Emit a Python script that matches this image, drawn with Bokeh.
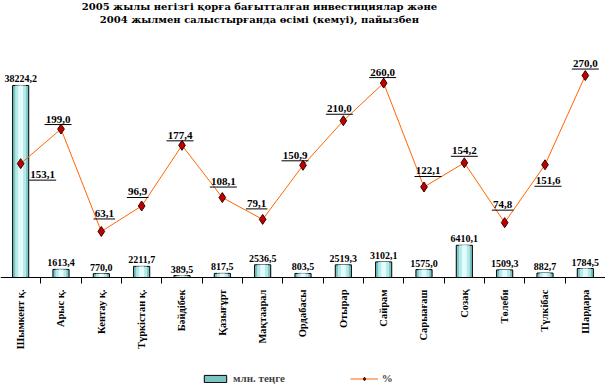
import math
from bokeh.plotting import figure
from bokeh.models import Range1d, FixedTicker, Label, Legend, LegendItem, ColumnDataSource
from bokeh.core.properties import value
from bokeh.embed import file_html
from bokeh.resources import INLINE

districts = ["Шымкент қ.", "Арыс қ.", "Кентау қ.", "Түркістан қ.", "Бәйдібек", "Қазығұрт",
             "Мақтаарал", "Ордабасы", "Отырар", "Сайрам", "Сарыағаш", "Созақ", "Төлеби",
             "Түлкібас", "Шардара"]
invest_mln = [38224.2, 1613.4, 770.0, 2211.7, 389.5, 817.5, 2536.5, 803.5, 2519.3, 3102.1,
              1575.0, 6410.1, 1509.3, 882.7, 1784.5]
growth_pct = [153.1, 199.0, 63.1, 96.9, 177.4, 108.1, 79.1, 150.9, 210.0, 260.0, 122.1,
              154.2, 74.8, 151.6, 270.0]
title_lines = ["2005 жылы негізгі қорға бағытталған инвестициялар және",
               "2004 жылмен салыстырғанда өсімі (кемуі), пайызбен"]
legend_bar = "млн. теңге"
legend_line = "%"

# label placement (pixel offsets of percentage labels from their markers)
pct_dx = [22, -3, 3, -4, -2, 1, -6, -8, -4, -1, 4, 0, -2, 3, 0]
pct_dy = [11, -10, -18, -14, -10, -16, -16, -10, -12, -11, -16, -12, -18, 16, -12]

# frame covers the whole canvas; the category axis sits at value 0
FW, FH = 605, 384
XR = (-0.5, 14.5)
BAR_R = (-21300, 55140)
PCT_R = (-140.0, 369.6)
px_x = FW / (XR[1] - XR[0])
px_pct = FH / (PCT_R[1] - PCT_R[0])

FONT = value("Liberation Serif")
xs = list(range(len(districts)))
pct_lbl = [f"{v:.1f}".replace(".", ",") for v in growth_pct]
ul_w = [len(t) * 5.4 for t in pct_lbl]

src = ColumnDataSource(dict(
    x=xs,
    inv=invest_mln,
    inv_lbl=[f"{v:.1f}".replace(".", ",") for v in invest_mln],
    pct=growth_pct,
    pct_lbl=pct_lbl,
    dx=pct_dx,
    dy=pct_dy,
    ul_x0=[x + (dx - w / 2) / px_x for x, dx, w in zip(xs, pct_dx, ul_w)],
    ul_x1=[x + (dx + w / 2) / px_x for x, dx, w in zip(xs, pct_dx, ul_w)],
    ul_y=[v - (dy + 5.5) / px_pct for v, dy in zip(growth_pct, pct_dy)],
))

p = figure(frame_width=FW, frame_height=FH, output_backend="svg", toolbar_location=None,
           x_range=Range1d(*XR), y_range=Range1d(*BAR_R),
           y_axis_location=None, min_border_left=0, min_border_right=0,
           min_border_top=0, min_border_bottom=0)
p.extra_y_ranges = {"pct": Range1d(*PCT_R)}
p.outline_line_color = None
p.xgrid.visible = False
p.ygrid.visible = False
p.background_fill_color = "white"
p.border_fill_color = "white"

# bars with a pseudo-gradient
outer = p.vbar(x="x", top="inv", bottom=0, width=0.4, source=src, fill_color="#7cc4c4",
               line_color="black", line_width=1)
p.vbar(x="x", top="inv", bottom=0, width=0.27, source=src, fill_color="#b6eaea", line_color=None)
p.vbar(x="x", top="inv", bottom=0, width=0.12, source=src, fill_color="#e4fbfb", line_color=None)

p.text(x="x", y="inv", text="inv_lbl", source=src, text_align="center",
       text_baseline="bottom", y_offset=-3, text_font=FONT, text_font_style="bold",
       text_font_size="10px", text_color="black")

# growth line
ln = p.line(x="x", y="pct", source=src, y_range_name="pct", line_color="#ff6600", line_width=1)
mk = p.scatter(x="x", y="pct", source=src, y_range_name="pct", marker="diamond", size=10,
               fill_color="#c00000", line_color="#3a0000", line_width=1)
p.text(x="x", y="pct", text="pct_lbl", source=src, y_range_name="pct", x_offset="dx",
       y_offset="dy", text_align="center", text_baseline="middle", text_font=FONT,
       text_font_style="bold", text_font_size="11px", text_color="black")
p.segment(x0="ul_x0", x1="ul_x1", y0="ul_y", y1="ul_y", source=src, y_range_name="pct",
          line_color="black", line_width=1)

# titles
p.add_layout(Label(x=5.92, y=53950, text=title_lines[0], text_align="center",
                   text_baseline="middle", text_font="DejaVu Serif", text_font_style="bold",
                   text_font_size="10px", text_color="black"))
p.add_layout(Label(x=5.92, y=51360, text=title_lines[1], text_align="center",
                   text_baseline="middle", text_font="DejaVu Serif", text_font_style="bold",
                   text_font_size="10px", text_color="black"))

# x axis, drawn at value 0
ax = p.xaxis[0]
ax.fixed_location = 0
ax.ticker = FixedTicker(ticks=xs, minor_ticks=[i + 0.5 for i in xs])
ax.major_label_overrides = {i: n for i, n in zip(xs, districts)}
ax.major_label_orientation = math.pi / 2
ax.major_tick_line_color = None
ax.major_tick_out = 0
ax.major_tick_in = 0
ax.minor_tick_out = 6
ax.minor_tick_in = 0
ax.minor_tick_line_color = "black"
ax.axis_line_color = "black"
ax.major_label_standoff = 6
ax.major_label_text_font = "Liberation Serif"
ax.major_label_text_font_style = "bold"
ax.major_label_text_font_size = "10.5px"
ax.major_label_text_color = "black"

legend = Legend(items=[LegendItem(label=legend_bar, renderers=[outer]),
                       LegendItem(label=legend_line, renderers=[ln, mk])],
                orientation="horizontal", location=(201, 0), border_line_color=None,
                background_fill_alpha=0, label_text_font="Liberation Serif",
                label_text_font_style="bold", label_text_font_size="11px",
                glyph_width=28, glyph_height=9, spacing=65, padding=0, margin=0,
                label_standoff=4)
p.add_layout(legend, "center")

open("out.html", "w").write(file_html(p, INLINE))
